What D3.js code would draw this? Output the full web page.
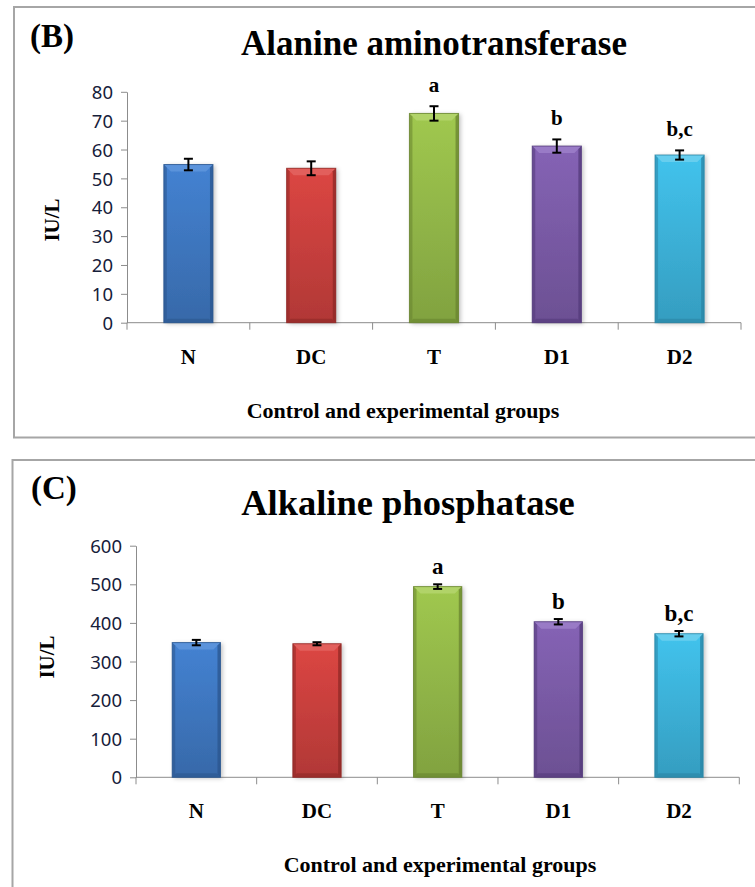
<!DOCTYPE html>
<html>
<head>
<meta charset="utf-8">
<script src="https://cdn.jsdelivr.net/npm/d3@7"></script>
<style>
  html, body { margin: 0; padding: 0; background: #fff; }
  svg { display: block; }
</style>
</head>
<body>
<svg id="chart" width="755" height="887"></svg>
<script>
// ---------- data ----------
const groups = ["N", "DC", "T", "D1", "D2"];

const altMean = [54.8, 53.5, 72.5, 61.2, 58.1];
const altErr = [2.0, 2.4, 2.5, 2.3, 1.6];
const altLetters = ["", "", "a", "b", "b,c"];
const altTicks = [0, 10, 20, 30, 40, 50, 60, 70, 80];

const alpMean = [349, 346, 494, 403, 372];
const alpErr = [7, 4, 6, 7, 7];
const alpLetters = ["", "", "a", "b", "b,c"];
const alpTicks = [0, 100, 200, 300, 400, 500, 600];

const barColors = [
  { base: "#3e77c0", light: "#5d95dc", dark: "#2b568e" },
  { base: "#c9403d", light: "#e2625f", dark: "#8e2826" },
  { base: "#92b748", light: "#b3d46b", dark: "#68832f" },
  { base: "#7a5ba6", light: "#9b7dc8", dark: "#533a7a" },
  { base: "#3cb2d9", light: "#6ccfee", dark: "#2a84a4" }
];

const svg = d3.select("#chart");
const serif = "'Liberation Serif', 'Times New Roman', serif";
const sans = "'Noto Sans', 'Open Sans', sans-serif";

// defs: gradients and shadow
const defs = svg.append("defs");
barColors.forEach((c, i) => {
  const g = defs.append("linearGradient").attr("id", "grad" + i)
    .attr("x1", 0).attr("y1", 0).attr("x2", 0).attr("y2", 1);
  g.append("stop").attr("offset", "0%").attr("stop-color", d3.color(c.base).brighter(0.25));
  g.append("stop").attr("offset", "100%").attr("stop-color", d3.color(c.base).darker(0.35));
});
const f = defs.append("filter").attr("id", "shadow").attr("x", "-20%").attr("y", "-10%").attr("width", "150%").attr("height", "120%");
f.append("feDropShadow").attr("dx", 2).attr("dy", 1).attr("stdDeviation", 2).attr("flood-color", "#000").attr("flood-opacity", 0.25);

function drawPanel(cfg) {
  const g = svg.append("g");

  // frame
  g.append("path")
    .attr("d", `M${cfg.frame.x1},${cfg.frame.top} H${cfg.frame.left} V${cfg.frame.bottom} H${cfg.frame.x1}`)
    .attr("fill", "none").attr("stroke", "#a6a6a6").attr("stroke-width", 2);

  const x = d3.scaleBand().domain(groups).range([cfg.x0, cfg.x1]).padding(0);
  const y = d3.scaleLinear().domain([0, d3.max(cfg.ticks)]).range([cfg.yZero, cfg.yTop]);

  // y axis
  const ya = g.append("g").attr("transform", `translate(${cfg.x0},0)`)
    .call(d3.axisLeft(y).tickValues(cfg.ticks).tickSize(6).tickPadding(8).tickSizeOuter(0));
  ya.select(".domain").attr("stroke", "#8c8c8c");
  ya.selectAll(".tick line").attr("stroke", "#8c8c8c");
  ya.selectAll(".tick text").attr("font-family", sans).attr("font-size", 18.5)
    .attr("fill", "#16203a").attr("dy", "0.36em");

  // x axis baseline + boundary ticks
  g.append("line").attr("x1", cfg.x0).attr("x2", cfg.x1)
    .attr("y1", cfg.yZero).attr("y2", cfg.yZero).attr("stroke", "#8c8c8c");
  const bounds = [cfg.x0].concat(groups.map(d => x(d) + x.bandwidth()));
  g.selectAll(".bt").data(bounds).enter().append("line")
    .attr("x1", d => d).attr("x2", d => d)
    .attr("y1", cfg.yZero).attr("y2", cfg.yZero + 7).attr("stroke", "#8c8c8c");

  // category labels
  const xa = g.append("g").attr("transform", `translate(0,${cfg.yZero})`)
    .call(d3.axisBottom(x).tickSize(0).tickPadding(cfg.labelPad));
  xa.select(".domain").remove();
  xa.selectAll(".tick text").attr("font-family", serif).attr("font-weight", "bold")
    .attr("font-size", 21).attr("fill", "#000");

  // bars
  const bw = x.bandwidth() * 0.4;
  const bev = 7;
  groups.forEach((grp, i) => {
    const c = barColors[i];
    const bx = x(grp) + (x.bandwidth() - bw) / 2;
    const by = y(cfg.mean[i]);
    const bh = y(0) - by;
    const bg = g.append("g");
    bg.append("rect").attr("x", bx).attr("y", by).attr("width", bw).attr("height", bh)
      .attr("fill", `url(#grad${i})`).attr("filter", "url(#shadow)");
    // top bevel
    bg.append("path")
      .attr("d", `M${bx},${by} H${bx + bw} L${bx + bw - bev},${by + bev} H${bx + bev} Z`)
      .attr("fill", c.light).attr("opacity", 0.9);
    // side bevels
    bg.append("path")
      .attr("d", `M${bx},${by} L${bx + 3},${by + 3} V${by + bh - 3} L${bx},${by + bh} Z`)
      .attr("fill", c.dark).attr("opacity", 0.55);
    bg.append("path")
      .attr("d", `M${bx + bw},${by} L${bx + bw - 3},${by + 3} V${by + bh - 3} L${bx + bw},${by + bh} Z`)
      .attr("fill", c.dark).attr("opacity", 0.75);
    // bottom bevel
    bg.append("path")
      .attr("d", `M${bx},${by + bh} H${bx + bw} L${bx + bw - 4},${by + bh - 4} H${bx + 4} Z`)
      .attr("fill", c.dark).attr("opacity", 0.6);
    bg.append("rect").attr("x", bx).attr("y", by).attr("width", bw).attr("height", bh)
      .attr("fill", "none").attr("stroke", c.dark).attr("stroke-width", 1).attr("opacity", 0.8);

    // error bar
    const cx = x(grp) + x.bandwidth() / 2;
    const yHi = y(cfg.mean[i] + cfg.err[i]);
    const yLo = y(cfg.mean[i] - cfg.err[i]);
    const eb = g.append("g").attr("stroke", "#000").attr("stroke-width", 2);
    eb.append("line").attr("x1", cx).attr("x2", cx).attr("y1", yHi).attr("y2", yLo);
    eb.append("line").attr("x1", cx - 4.5).attr("x2", cx + 4.5).attr("y1", yHi).attr("y2", yHi);
    eb.append("line").attr("x1", cx - 4.5).attr("x2", cx + 4.5).attr("y1", yLo).attr("y2", yLo);

    // significance letter
    if (cfg.letters[i]) {
      g.append("text").attr("x", cx).attr("y", yHi - cfg.letterGap)
        .attr("text-anchor", "middle").attr("font-family", serif).attr("font-weight", "bold")
        .attr("font-size", cfg.letterSize).attr("fill", "#000").text(cfg.letters[i]);
    }
  });

  // panel label and title
  g.append("text").attr("x", cfg.tagX).attr("y", cfg.tagY).attr("font-family", serif)
    .attr("font-weight", "bold").attr("font-size", 33).text(cfg.tag);
  g.append("text").attr("x", cfg.titleX).attr("y", cfg.titleY).attr("text-anchor", "middle")
    .attr("font-family", serif).attr("font-weight", "bold").attr("font-size", cfg.titleSize).text(cfg.title);

  // axis titles
  g.append("text").attr("transform", `translate(${cfg.yTitleX},${cfg.yTitleY}) rotate(-90)`)
    .attr("text-anchor", "middle").attr("font-family", serif).attr("font-weight", "bold")
    .attr("font-size", 21).text("IU/L");
  g.append("text").attr("x", cfg.xTitleX).attr("y", cfg.xTitleY).attr("text-anchor", "middle")
    .attr("font-family", serif).attr("font-weight", "bold").attr("font-size", 22)
    .text("Control and experimental groups");
}

drawPanel({
  frame: { left: 14, top: 7, bottom: 437.5, x1: 760 },
  x0: 127, x1: 741, yZero: 322.7, yTop: 91.8,
  ticks: altTicks, mean: altMean, err: altErr, letters: altLetters,
  letterGap: 14, letterSize: 21, labelPad: 26,
  tag: "(B)", tagX: 30, tagY: 47,
  title: "Alanine aminotransferase", titleX: 434, titleY: 55, titleSize: 35,
  yTitleX: 59, yTitleY: 220, xTitleX: 403, xTitleY: 418
});

drawPanel({
  frame: { left: 12.5, top: 460, bottom: 900, x1: 760 },
  x0: 136, x1: 739.3, yZero: 777.3, yTop: 545.7,
  ticks: alpTicks, mean: alpMean, err: alpErr, letters: alpLetters,
  letterGap: 10, letterSize: 23, labelPad: 26,
  tag: "(C)", tagX: 31, tagY: 499,
  title: "Alkaline phosphatase", titleX: 408, titleY: 515, titleSize: 36.5,
  yTitleX: 54, yTitleY: 657, xTitleX: 440, xTitleY: 872
});
</script>
</body>
</html>
